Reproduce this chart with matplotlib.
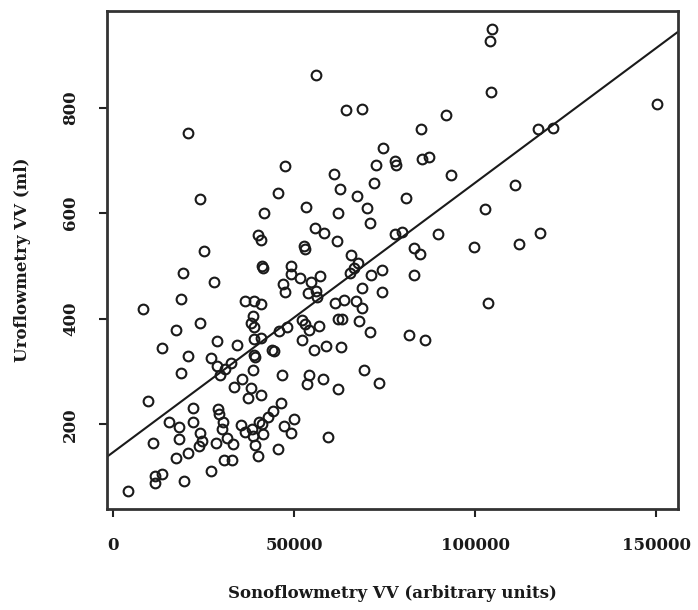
import numpy as np
import matplotlib
matplotlib.use("Agg")
import matplotlib.pyplot as plt

# sonoflowmetry voided volume (arbitrary units) vs uroflowmetry voided volume (ml)
sono = [
    56000, 64200, 68700, 20600, 74400, 77700, 78100, 72600, 47500, 61100,
    72100, 62500, 45400, 67400, 24000, 53200, 70200, 41500, 62100, 71000,
    55700, 58300, 40100, 40800, 52800, 53000, 61900, 77900, 79700, 25100,
    65800, 104600, 104100, 104500, 150300, 91900, 85000, 117500, 121600, 85200,
    87100, 93300, 111100, 80900, 102800, 89600, 118000, 83000, 84800, 99700,
    112200,
    19200, 27800, 18600, 8100, 24000, 17200, 28700, 13500, 20600, 26900,
    28700, 30900, 18600, 41200, 41300, 49100, 49000, 51700, 54600, 57000,
    47000, 47300, 53900, 56000, 56300, 36400, 38900, 40800, 38700, 37900,
    38900, 52100, 53000, 54200, 47900, 45700, 56700, 38800, 40700, 34200,
    52000, 43900, 44300, 55500, 38800, 39000, 46500, 38700, 32500, 29400,
    67600, 66600, 65400, 71100, 74200, 68800, 74200, 61300, 63800, 67000,
    68700, 62200, 63100, 68000, 70800, 81600, 86000, 58700, 62900, 69400,
    83100, 103500,
    9500, 21900, 28900, 29100, 15500, 18000, 21900, 30400, 30000, 23800,
    24400, 23700, 18200, 10900, 28300, 31300, 33000, 20700, 17200, 30700,
    32900, 27000, 13400, 11500, 11400, 19500, 4000, 35500, 33200, 38000,
    37300, 40800, 46400, 44200, 42700, 41000, 40300, 35300, 36400, 38300,
    38500, 41300, 49900, 47200, 49100, 39200, 40100, 45600, 54100, 53600,
    57800, 62100, 73400, 59400,
]
uro = [
    862, 796, 797, 752, 724, 698, 691, 692, 689, 674,
    658, 646, 639, 633, 626, 612, 609, 600, 600, 582,
    571, 562, 559, 549, 537, 533, 548, 561, 564, 529,
    520, 948, 926, 830, 806, 785, 760, 760, 761, 703,
    707, 673, 653, 629, 608, 560, 562, 534, 523, 536,
    542,
    487, 470, 438, 419, 392, 379, 357, 345, 329, 326,
    310, 305, 298, 500, 497, 499, 485, 478, 470, 481,
    465, 451, 448, 453, 442, 434, 434, 427, 405, 391,
    384, 397, 390, 379, 384, 377, 386, 361, 363, 351,
    359, 341, 338, 340, 331, 327, 293, 303, 316, 293,
    506, 497, 486, 482, 492, 458, 451, 429, 436, 433,
    421, 400, 400, 396, 375, 370, 359, 349, 347, 302,
    482, 429,
    244, 231, 229, 220, 205, 194, 205, 205, 191, 184,
    168, 158, 172, 164, 164, 174, 162, 145, 136, 133,
    132, 111, 106, 102, 88, 93, 74, 286, 271, 268,
    250, 255, 241, 225, 213, 201, 204, 199, 185, 191,
    178, 182, 210, 197, 184, 161, 140, 154, 293, 276,
    286, 267, 278, 176,
]

# fitted regression line
fit_intercept = 147.6
fit_slope = 0.0051

xticks = [0, 50000, 100000, 150000]
yticks = [200, 400, 600, 800]

plt.rcParams['font.family'] = ['DejaVu Serif']
plt.rcParams['font.weight'] = 'bold'

x = np.array(sono)
y = np.array(uro)

fig = plt.figure(figsize=(6.98, 6.10), dpi=100)
ax = fig.add_axes([0.1529, 0.1651, 0.8189, 0.8169])

ax.plot(x, y, 'o', mfc='none', mec='#1a1a1a', ms=7, mew=1.5)
ax.axline((0, fit_intercept), slope=fit_slope, color='#1a1a1a', lw=1.5)

# R style axis limits: data range plus 4%
xr = x.max() - x.min()
yr = y.max() - y.min()
ax.set_xlim(x.min() - 0.04 * xr, x.max() + 0.04 * xr)
ax.set_ylim(y.min() - 0.04 * yr, y.max() + 0.04 * yr)

ax.set_xticks(xticks)
ax.set_xticklabels([str(t) for t in xticks])
ax.set_yticks(yticks)
ax.set_yticklabels([str(t) for t in yticks], rotation=90, va='center')
ax.tick_params(axis='both', length=6, width=1.5, labelsize=12, pad=14,
               color='#222222', labelcolor='#1a1a1a')

for s in ax.spines.values():
    s.set_linewidth(2)
    s.set_color('#333333')

ax.set_xlabel('Sonoflowmetry VV (arbitrary units)', fontsize=12,
              fontweight='bold', labelpad=22, color='#1a1a1a')
ax.set_ylabel('Uroflowmetry VV (ml)', fontsize=12, fontweight='bold',
              labelpad=22, color='#1a1a1a')

fig.savefig('out.png', dpi=100)
